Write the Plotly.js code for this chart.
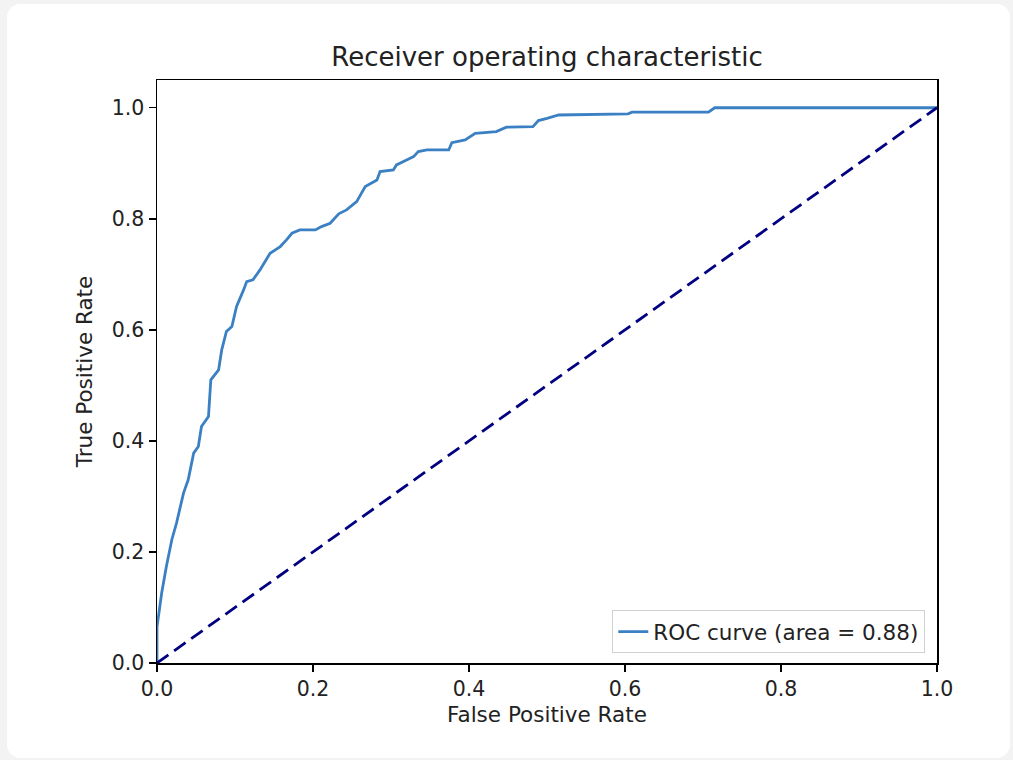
<!DOCTYPE html>
<html>
<head>
<meta charset="utf-8">
<script src="https://cdn.plot.ly/plotly-3.0.1.min.js"></script>
<style>
  html, body { margin: 0; padding: 0; background: #f3f3f3; width: 1013px; height: 760px; overflow: hidden; }
  #card { position: absolute; left: 7px; top: 4px; width: 1003px; height: 754px; background: #ffffff; border-radius: 14px; overflow: hidden; }
  #chart { width: 1003px; height: 754px; }
</style>
</head>
<body>
<div id="card"><div id="chart"></div></div>
<script>
// ROC curve points
const fpr = [0, 0, 0.006, 0.012, 0.019, 0.025, 0.034, 0.040, 0.047, 0.053, 0.057,
  0.066, 0.069, 0.079, 0.083, 0.089, 0.096, 0.102, 0.111, 0.115, 0.123,
  0.132, 0.145, 0.158, 0.166, 0.173, 0.183, 0.203, 0.211, 0.222, 0.233,
  0.243, 0.256, 0.267, 0.282, 0.286, 0.303, 0.307, 0.320, 0.329, 0.335,
  0.346, 0.374, 0.378, 0.395, 0.408, 0.435, 0.448, 0.482, 0.489, 0.500,
  0.515, 0.604, 0.609, 0.707, 0.715, 1.0];
const tpr = [0, 0.065, 0.126, 0.174, 0.222, 0.252, 0.306, 0.330, 0.378, 0.390, 0.426,
  0.444, 0.510, 0.528, 0.564, 0.597, 0.606, 0.642, 0.672, 0.687, 0.690,
  0.708, 0.738, 0.750, 0.762, 0.774, 0.780, 0.780, 0.786, 0.792, 0.809,
  0.816, 0.831, 0.858, 0.870, 0.885, 0.888, 0.897, 0.906, 0.912, 0.921,
  0.924, 0.924, 0.937, 0.942, 0.954, 0.957, 0.965, 0.966, 0.977, 0.981,
  0.987, 0.989, 0.992, 0.992, 1.0, 1.0];
const chanceX = [0, 1];
const chanceY = [0, 1];
const rocLabel = 'ROC curve (area = 0.88)';
const titleText = 'Receiver operating characteristic';
const xLabel = 'False Positive Rate';
const yLabel = 'True Positive Rate';
const tickVals = [0, 0.2, 0.4, 0.6, 0.8, 1.0];

const FONT = 'DejaVu Sans, Verdana, sans-serif';
const TXT = '#222222';

const traces = [
  { x: fpr, y: tpr, mode: 'lines', name: rocLabel,
    line: { color: '#3a80c3', width: 2.8 }, showlegend: true },
  { x: chanceX, y: chanceY, mode: 'lines', name: 'chance',
    line: { color: '#000080', width: 2.8, dash: '14px,7px' }, showlegend: false }
];

const axisCommon = {
  showgrid: false, zeroline: false, showline: true, mirror: true,
  linecolor: '#000000', linewidth: 1.5,
  ticks: 'outside', ticklen: 7, tickwidth: 1.4, tickcolor: '#000000',
  tickvals: tickVals, tickformat: '.1f',
  tickfont: { family: FONT, size: 20.5, color: TXT }
};

const layout = {
  width: 1003, height: 754,
  paper_bgcolor: '#ffffff', plot_bgcolor: '#ffffff',
  margin: { l: 150, r: 73, t: 76, b: 95 },
  title: { text: titleText, x: 0.5, xref: 'paper', y: 1 - 53 / 754, yref: 'container', yanchor: 'middle',
    font: { family: FONT, size: 26, color: TXT } },
  xaxis: Object.assign({}, axisCommon, { range: [0, 1],
    title: { text: xLabel, standoff: 7, font: { family: FONT, size: 21.5, color: TXT } } }),
  yaxis: Object.assign({}, axisCommon, { range: [0, 1.05],
    title: { text: yLabel, standoff: 13, font: { family: FONT, size: 21.5, color: TXT } } }),
  legend: { x: 0.985, xanchor: 'right', y: 0.017, yanchor: 'bottom',
    bgcolor: 'rgba(255,255,255,0.85)', bordercolor: '#d0d0d0', borderwidth: 1,
    font: { family: FONT, size: 21.5, color: TXT } },
  showlegend: true
};

Plotly.newPlot('chart', traces, layout, { displayModeBar: false, staticPlot: true });
</script>
</body>
</html>
